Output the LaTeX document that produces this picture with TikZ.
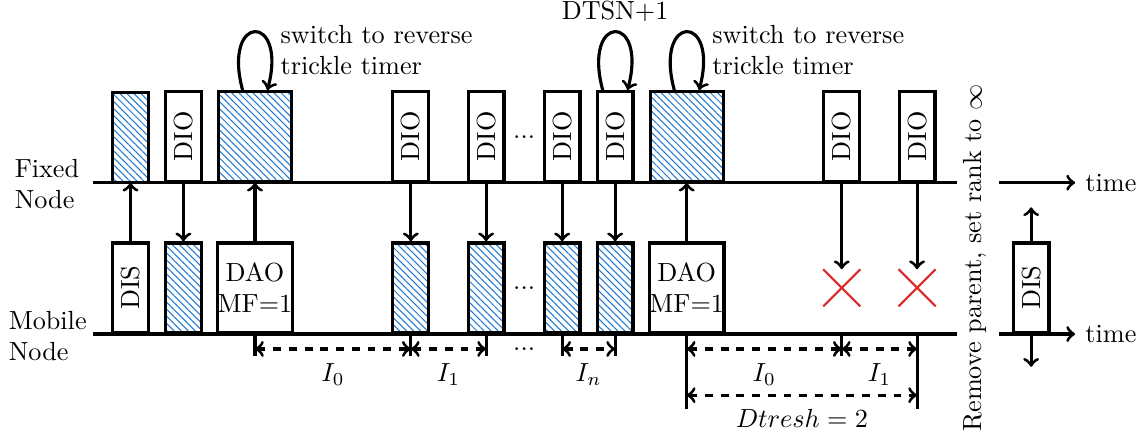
\documentclass[tikz,border=0pt]{standalone}
\usepackage{tikz}
\usetikzlibrary{arrows,patterns.meta,shapes.misc}

\definecolor{hatchblue}{RGB}{30,120,210}
\definecolor{crossred}{RGB}{220,40,40}

\tikzset{
  pkt/.style={draw, very thick, inner sep=0pt, minimum width=0.48cm,
              minimum height=1.2cm, anchor=south, align=center},
  widepkt/.style={pkt, minimum width=0.98cm},
  hatched/.style={pattern={Lines[angle=-45,distance=1.9pt,line width=0.4pt]},
                  pattern color=hatchblue},
  lost/.style={cross out, draw=crossred, thick, minimum size=0.47cm, inner sep=0pt},
  interval/.style={<->, dashed},
}

\begin{document}
\begin{tikzpicture}[>=to, auto, very thick]
  \useasboundingbox (-1.25,-1.40) rectangle (14.00,4.48);

  % time lines
  \draw (0,2.03) -- (11.59,2.03);
  \draw (0,0) -- (11.59,0);
  \draw[->] (12.15,2.03) -- (13.17,2.03) node[right] {time};
  \draw[->] (12.15,0) -- (13.17,0) node[right] {time};

  \node[align=left] (fixed)  at (-0.62,2.01)  {Fixed\\Node};
  \node[align=left] (mobile) at (-0.61,-0.03) {Mobile\\Node};

  % fixed node
  \node[pkt,hatched]     (f1)  at (0.50,2.03)  {};
  \node[pkt]             (f2)  at (1.21,2.03)  {\rotatebox{90}{DIO}};
  \node[widepkt,hatched] (f3)  at (2.17,2.03)  {};
  \node[pkt]             (f4)  at (4.26,2.03)  {\rotatebox{90}{DIO}};
  \node[pkt]             (f5)  at (5.27,2.03)  {\rotatebox{90}{DIO}};
  \node[pkt]             (f6)  at (6.29,2.03)  {\rotatebox{90}{DIO}};
  \node[pkt]             (f7)  at (7.00,2.03)  {\rotatebox{90}{DIO}};
  \node[widepkt,hatched] (f8)  at (7.96,2.03)  {};
  \node[pkt]             (f9)  at (10.04,2.03) {\rotatebox{90}{DIO}};
  \node[pkt]             (f10) at (11.05,2.03) {\rotatebox{90}{DIO}};
  \node (fdots) at (5.78,2.64) {...};

  % mobile node
  \node[pkt]             (m1) at (0.50,0) {\rotatebox{90}{DIS}};
  \node[pkt,hatched]     (m2) at (1.21,0) {};
  \node[widepkt]         (m3) at (2.17,0) {DAO\\MF=1};
  \node[pkt,hatched]     (m4) at (4.26,0) {};
  \node[pkt,hatched]     (m5) at (5.27,0) {};
  \node[pkt,hatched]     (m6) at (6.29,0) {};
  \node[pkt,hatched]     (m7) at (7.00,0) {};
  \node[widepkt]         (m8) at (7.96,0) {DAO\\MF=1};
  \node (mdots) at (5.78,0.61) {...};

  \node[lost] (x9)  at (10.04,0.62) {};
  \node[lost] (x10) at (11.05,0.62) {};

  \node[pkt] (dis) at (12.58,0) {\rotatebox{90}{DIS}};
  \coordinate (disup)   at (12.58,1.70);
  \coordinate (disdown) at (12.58,-0.44);

  \node[rotate=90] (remove) at (11.83,1.02) {Remove parent, set rank to $\infty$};

  % messages
  \path[->] (m1)  edge (f1)
            (f2)  edge (m2)
            (m3)  edge (f3)
            (f4)  edge (m4)
            (f5)  edge (m5)
            (f6)  edge (m6)
            (f7)  edge (m7)
            (m8)  edge (f8)
            (f9)  edge (x9)
            (f10) edge (x10)
            (dis) edge (disup)
            (dis) edge (disdown);

  % loops
  \path[->] (f3) edge[loop above, looseness=8.3] node[pos=0.78,right,align=left]
                 {switch to reverse\\trickle timer} (f3)
            (f7) edge[loop above, looseness=8.3] node {DTSN+1} (f7)
            (f8) edge[loop above, looseness=8.3] node[pos=0.78,right,align=left]
                 {switch to reverse\\trickle timer} (f8);

  % interval marks
  \draw (m3.south) -- ++(0,-0.30);
  \draw (m4.south) -- ++(0,-0.30);
  \draw (m5.south) -- ++(0,-0.30);
  \draw (m6.south) -- ++(0,-0.30);
  \draw (m7.south) -- ++(0,-0.30);
  \draw (m8.south) -- ++(0,-1.01);
  \draw (10.04,0) -- ++(0,-0.30);
  \draw (11.05,0) -- ++(0,-1.01);

  \coordinate (a0) at (2.17,-0.2);
  \coordinate (a1) at (4.26,-0.2);
  \coordinate (a2) at (5.27,-0.2);
  \coordinate (a3) at (6.29,-0.2);
  \coordinate (a4) at (7.00,-0.2);
  \coordinate (a5) at (7.96,-0.2);
  \coordinate (a6) at (10.04,-0.2);
  \coordinate (a7) at (11.05,-0.2);
  \coordinate (d0) at (7.96,-0.82);
  \coordinate (d1) at (11.05,-0.82);

  \draw[interval] (a0) -- node[below=1.5pt] {$I_0$} (a1);
  \draw[interval] (a1) -- node[below=1.5pt] {$I_1$} (a2);
  \node (idots) at (5.78,-0.2) {...};
  \draw[interval] (a3) -- node[below=1.5pt] {$I_n$} (a4);
  \draw[interval] (a5) -- node[below=1.5pt] {$I_0$} (a6);
  \draw[interval] (a6) -- node[below=1.5pt] {$I_1$} (a7);
  \draw[interval] (d0) -- node[below=1.5pt] {$Dtresh = 2$} (d1);
\end{tikzpicture}
\end{document}
